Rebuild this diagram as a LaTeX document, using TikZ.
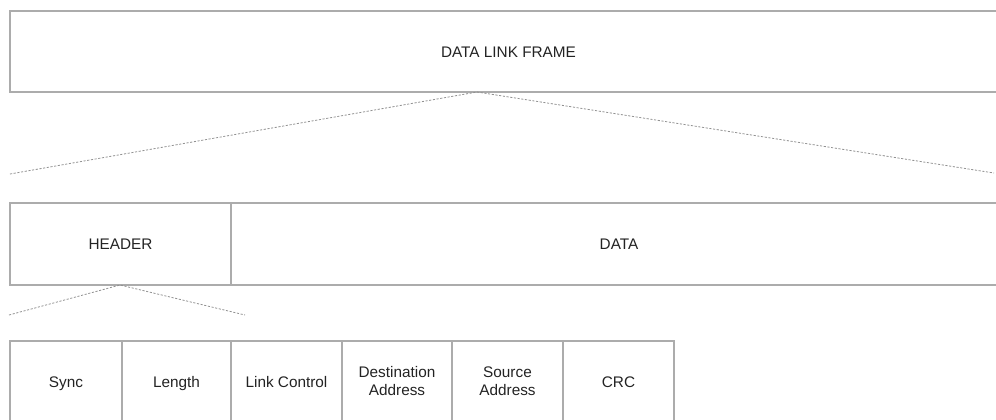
\documentclass[tikz,border=0pt]{standalone}
\usepackage{fontspec}
\setmainfont{Liberation Sans}
\definecolor{boxline}{RGB}{172,172,172}
\definecolor{dashline}{RGB}{145,145,145}
\definecolor{txt}{RGB}{35,35,35}
\newcommand{\capstrut}{\vrule height 10pt depth 1.7pt width 0pt}
\begin{document}
\begin{tikzpicture}[x=0.75pt,y=-0.75pt,
  field/.style={draw=boxline, line width=1pt, rectangle, anchor=north west,
    inner sep=0pt, outer sep=0pt, text=txt, align=center,
    font=\fontsize{11.5}{13.5}\selectfont,
    execute at begin node={\capstrut}, execute at end node={\capstrut}},
  zoomline/.style={draw=dashline, line width=0.6pt, dash pattern=on 1.6pt off 1.2pt}]
\useasboundingbox (0,0) rectangle (996,419);
\clip (0,0) rectangle (996,419);
% top frame
\node[field, minimum width=997*0.75pt, minimum height=81*0.75pt] (frame) at (10,11) {DATA LINK FRAME};
% middle row
\node[field, minimum width=221*0.75pt, minimum height=82*0.75pt] (header) at (10,203) {HEADER};
\node[field, minimum width=776*0.75pt, minimum height=82*0.75pt] (data) at (231,203) {DATA};
% bottom row
\node[field, minimum width=112*0.75pt, minimum height=82*0.75pt] (sync) at (10,341) {Sync};
\node[field, minimum width=109*0.75pt, minimum height=82*0.75pt] (length) at (122,341) {Length};
\node[field, minimum width=111*0.75pt, minimum height=82*0.75pt] (link) at (231,341) {Link Control};
\node[field, minimum width=110*0.75pt, minimum height=82*0.75pt] (dest) at (342,341) {Destination\\Address};
\node[field, minimum width=111*0.75pt, minimum height=82*0.75pt] (src) at (452,341) {Source\\Address};
\node[field, minimum width=111*0.75pt, minimum height=82*0.75pt] (crc) at (563,341) {CRC};
% zoom lines
\coordinate (apex1) at (477,92);
\coordinate (l1) at (10,174);
\coordinate (r1) at (994,173);
\coordinate (apex2) at (120,285);
\coordinate (l2) at (9,315);
\coordinate (r2) at (245,315);
\draw[zoomline] (l1) -- (apex1) -- (r1);
\draw[zoomline] (l2) -- (apex2) -- (r2);
\end{tikzpicture}
\end{document}
